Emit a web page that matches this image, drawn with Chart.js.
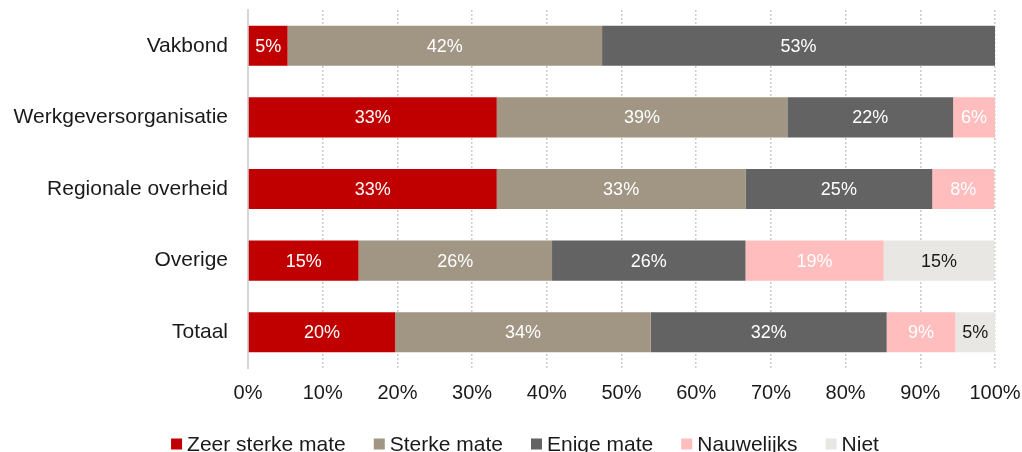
<!DOCTYPE html>
<html>
<head>
<meta charset="utf-8">
<script src="https://cdn.jsdelivr.net/npm/chart.js@4/dist/chart.umd.min.js"></script>
<style>
html,body{margin:0;padding:0;background:#fff;overflow:hidden;}
#wrap{width:1022px;height:452px;position:relative;}
</style>
</head>
<body>
<div id="wrap"><canvas id="c"></canvas></div>
<script>
const categories = ["Vakbond", "Werkgeversorganisatie", "Regionale overheid", "Overige", "Totaal"];
const seriesNames = ["Zeer sterke mate", "Sterke mate", "Enige mate", "Nauwelijks", "Niet"];
const zeerSterke = [5.3, 33.3, 33.3, 14.8, 19.7];
const sterke     = [42.1, 38.9, 33.3, 25.9, 34.2];
const enige      = [52.6, 22.2, 25.0, 25.9, 31.6];
const nauwelijks = [0, 5.6, 8.3, 18.5, 9.2];
const niet       = [0, 0, 0, 14.8, 5.3];
const xTicks = [0, 10, 20, 30, 40, 50, 60, 70, 80, 90, 100];

const colors = ["#C00000", "#A09683", "#636363", "#FFBDBD", "#E9E7E3"];
const labelColors = ["#ffffff", "#ffffff", "#ffffff", "#ffffff", "#1a1a1a"];
const values = [zeerSterke, sterke, enige, nauwelijks, niet];

const FONT = "'Liberation Sans', Arial, sans-serif";

const valueLabels = {
  id: 'valueLabels',
  afterDatasetsDraw(chart) {
    const ctx = chart.ctx;
    ctx.save();
    ctx.font = "18px " + FONT;
    ctx.textAlign = 'center';
    ctx.textBaseline = 'middle';
    chart.data.datasets.forEach((ds, i) => {
      const meta = chart.getDatasetMeta(i);
      meta.data.forEach((bar, j) => {
        const v = ds.data[j];
        if (!v) return;
        const p = bar.getProps(['x', 'y', 'base'], true);
        const cx = (p.x + p.base) / 2;
        ctx.fillStyle = labelColors[i];
        ctx.fillText(Math.round(v) + '%', cx, p.y + 1);
      });
    });
    ctx.restore();
  }
};

// legend drawn on canvas beneath the axis
const bottomLegend = {
  id: 'bottomLegend',
  afterDraw(chart) {
    const ctx = chart.ctx;
    const box = 11, gapText = 5, gapItem = 28, centerX = 525, cy = 444;
    ctx.save();
    ctx.font = "21px " + FONT;
    ctx.textBaseline = 'middle';
    ctx.textAlign = 'left';
    const items = chart.data.datasets.map(ds => ({ text: ds.label, color: ds.backgroundColor, w: ctx.measureText(ds.label).width }));
    let total = 0;
    items.forEach((it, i) => { total += box + gapText + it.w + (i < items.length - 1 ? gapItem : 0); });
    let x = centerX - total / 2;
    items.forEach(it => {
      ctx.fillStyle = it.color;
      ctx.fillRect(x, cy - box / 2, box, box);
      x += box + gapText;
      ctx.fillStyle = '#1a1a1a';
      ctx.fillText(it.text, x, cy + 1);
      x += it.w + gapItem;
    });
    ctx.restore();
  }
};

new Chart(document.getElementById('c'), {
  type: 'bar',
  data: {
    labels: categories,
    datasets: seriesNames.map((n, i) => ({
      label: n,
      data: values[i],
      backgroundColor: colors[i],
      borderWidth: 0,
      barPercentage: 0.56,
      categoryPercentage: 1
    }))
  },
  options: {
    indexAxis: 'y',
    responsive: true,
    maintainAspectRatio: false,
    animation: false,
    devicePixelRatio: 1,
    layout: { padding: { top: 10, right: 27, left: 0, bottom: 39 } },
    scales: {
      x: {
        stacked: true,
        min: 0, max: 100,
        afterBuildTicks(scale) { scale.ticks = xTicks.map(v => ({ value: v })); },
        afterFit(scale) { scale.height = 45; scale.paddingLeft = 0; scale.paddingRight = 0; },
        ticks: {
          callback: v => v + '%',
          color: '#1a1a1a',
          font: { family: FONT, size: 20 },
          padding: 13,
          maxRotation: 0
        },
        grid: { color: '#cccccc', lineWidth: 1.5, drawTicks: false },
        border: { display: false, dash: [2, 2] }
      },
      y: {
        stacked: true,
        afterFit(scale) { scale.width = 248; scale.paddingTop = 0; scale.paddingBottom = 0; },
        ticks: {
          color: '#1a1a1a',
          font: { family: FONT, size: 21 },
          padding: 20
        },
        grid: { display: false, drawTicks: false },
        border: { display: true, color: '#d6d6d6', width: 2 }
      }
    },
    plugins: {
      legend: { display: false },
      tooltip: { enabled: false }
    }
  },
  plugins: [valueLabels, bottomLegend]
});
</script>
</body>
</html>
